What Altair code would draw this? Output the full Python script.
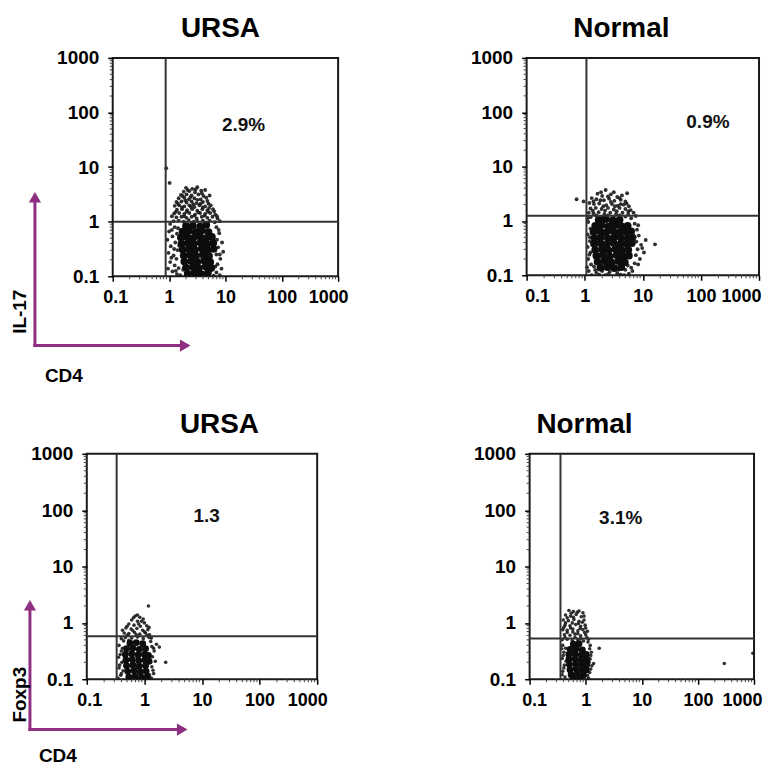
import altair as alt
import pandas as pd

FONT = "Liberation Sans"
PURPLE = "#8E2F82"
TICKS = [0.1, 1, 10, 100, 1000]
MINOR_TICKS = [0.2, 0.3, 0.4, 0.5, 0.6, 0.7, 0.8, 0.9,
               2, 3, 4, 5, 6, 7, 8, 9,
               20, 30, 40, 50, 60, 70, 80, 90,
               200, 300, 400, 500, 600, 700, 800, 900]
TITLES = ["URSA", "Normal", "URSA", "Normal"]
PCT_TEXT = ["2.9%", "0.9%", "1.3", "3.1%"]
PCT_X = [21, 132, 12, 4.2]
PCT_Y = [60, 65, 78, 72]
GATE_X = [0.87, 1.07, 0.33, 0.355]
GATE_Y = [1.0, 1.25, 0.58, 0.53]
Y_MARKERS = ["IL-17", "Foxp3"]
X_MARKER = "CD4"

# Event clouds, in log10 units: (log10 CD4, log10 marker)
P1_CORE = [
    (0.30, -0.08), (0.42, -0.07), (0.55, -0.09), (0.66, -0.06),
    (0.24, -0.18), (0.35, -0.17), (0.47, -0.19), (0.58, -0.16), (0.70, -0.19),
    (0.21, -0.29), (0.32, -0.28), (0.43, -0.30), (0.55, -0.27), (0.66, -0.30), (0.76, -0.28),
    (0.22, -0.40), (0.33, -0.39), (0.44, -0.41), (0.56, -0.38), (0.67, -0.41), (0.78, -0.39),
    (0.24, -0.51), (0.35, -0.50), (0.46, -0.52), (0.58, -0.49), (0.69, -0.52), (0.79, -0.50),
    (0.26, -0.62), (0.37, -0.61), (0.48, -0.63), (0.60, -0.60), (0.71, -0.63),
    (0.27, -0.73), (0.39, -0.72), (0.50, -0.74), (0.62, -0.71), (0.73, -0.74),
    (0.30, -0.84), (0.42, -0.83), (0.53, -0.85), (0.65, -0.82), (0.75, -0.85),
    (0.33, -0.95), (0.45, -0.94), (0.57, -0.96), (0.69, -0.93),
]
P1_DOTS = [
    (0.30, 0.62), (0.41, 0.60), (0.50, 0.63), (0.36, 0.56), (0.26, 0.55), (0.46, 0.54), (0.57, 0.57),
    (0.21, 0.49), (0.31, 0.50), (0.40, 0.48), (0.52, 0.50), (0.61, 0.47),
    (0.17, 0.43), (0.27, 0.44), (0.35, 0.41), (0.45, 0.43), (0.56, 0.41), (0.66, 0.44),
    (0.13, 0.36), (0.22, 0.37), (0.31, 0.35), (0.40, 0.37), (0.49, 0.34), (0.60, 0.36), (0.70, 0.33),
    (0.10, 0.29), (0.18, 0.30), (0.27, 0.28), (0.36, 0.30), (0.45, 0.27), (0.54, 0.30), (0.64, 0.28), (0.74, 0.30),
    (0.14, 0.22), (0.23, 0.23), (0.32, 0.21), (0.41, 0.23), (0.50, 0.20), (0.59, 0.23), (0.68, 0.21), (0.78, 0.23),
    (0.09, 0.15), (0.18, 0.16), (0.27, 0.14), (0.36, 0.16), (0.46, 0.13), (0.55, 0.16), (0.64, 0.14), (0.73, 0.16), (0.82, 0.13),
    (0.13, 0.08), (0.22, 0.09), (0.31, 0.07), (0.40, 0.09), (0.49, 0.06), (0.58, 0.09), (0.68, 0.07), (0.77, 0.09), (0.86, 0.06),
    (0.08, 0.01), (0.17, 0.02), (0.26, 0.00), (0.50, 0.01), (0.72, 0.02), (0.81, -0.01), (0.90, 0.01),
    (0.02, -0.04), (0.10, -0.10), (0.00, -0.18), (0.14, -0.22), (0.06, -0.27), (-0.03, -0.33), (0.11, -0.38),
    (0.03, -0.45), (0.15, -0.52), (-0.01, -0.57), (0.08, -0.62), (0.13, -0.68), (0.02, -0.74), (0.10, -0.80),
    (-0.02, -0.86), (0.06, -0.91), (0.14, -0.96), (0.17, -0.85), (0.18, -0.44), (0.16, -0.12),
    (0.84, -0.10), (0.89, -0.21), (0.85, -0.33), (0.94, -0.38), (0.87, -0.47), (0.96, -0.55), (0.84, -0.60),
    (0.91, -0.68), (0.86, -0.78), (0.93, -0.86), (0.84, -0.93), (0.90, -0.98), (0.79, -0.99),
    (0.01, 0.71), (-0.05, 0.98), (0.72, 0.48), (0.64, 0.58),
    (0.33, 0.58), (0.47, 0.59), (0.24, 0.47), (0.58, 0.52), (0.38, 0.45), (0.50, 0.40), (0.29, 0.39),
    (0.16, 0.33), (0.43, 0.32), (0.56, 0.33), (0.68, 0.38), (0.23, 0.26), (0.39, 0.27), (0.60, 0.26),
    (0.71, 0.25), (0.12, 0.18), (0.31, 0.18), (0.52, 0.17), (0.69, 0.18), (0.80, 0.19), (0.05, 0.10),
    (0.27, 0.10), (0.45, 0.11), (0.63, 0.11), (0.85, 0.10), (0.35, 0.03), (0.44, 0.00), (0.60, 0.02),
    (0.05, -0.15), (0.09, -0.50), (0.04, -0.66), (0.12, -0.90), (0.88, -0.15), (0.82, -0.40),
    (0.90, -0.60), (0.82, -0.82), (0.20, -0.98), (0.25, -0.88),
]
P2_CORE = [
    (0.24, 0.02), (0.36, 0.03), (0.48, 0.01), (0.60, 0.02),
    (0.18, -0.09), (0.29, -0.08), (0.41, -0.10), (0.53, -0.08), (0.64, -0.10), (0.74, -0.09),
    (0.15, -0.20), (0.26, -0.19), (0.37, -0.21), (0.49, -0.19), (0.60, -0.21), (0.71, -0.20), (0.80, -0.19),
    (0.17, -0.31), (0.28, -0.30), (0.40, -0.32), (0.51, -0.30), (0.63, -0.32), (0.74, -0.31), (0.82, -0.30),
    (0.16, -0.42), (0.27, -0.41), (0.38, -0.43), (0.50, -0.41), (0.61, -0.43), (0.72, -0.42), (0.81, -0.41),
    (0.18, -0.53), (0.30, -0.52), (0.41, -0.54), (0.53, -0.52), (0.64, -0.54), (0.75, -0.53),
    (0.20, -0.64), (0.31, -0.63), (0.43, -0.65), (0.55, -0.63), (0.66, -0.65), (0.76, -0.64),
    (0.22, -0.75), (0.34, -0.74), (0.46, -0.76), (0.58, -0.74), (0.69, -0.76),
    (0.27, -0.86), (0.39, -0.85), (0.51, -0.87), (0.63, -0.85),
]
P2_DOTS = [
    (0.36, 0.57), (0.73, 0.51), (0.22, 0.50), (0.30, 0.46), (0.45, 0.49), (0.56, 0.44), (0.64, 0.47),
    (0.12, 0.42), (0.20, 0.40), (0.33, 0.38), (0.42, 0.41), (0.51, 0.37), (0.62, 0.39), (0.70, 0.36),
    (0.08, 0.33), (0.16, 0.31), (0.25, 0.32), (0.37, 0.29), (0.47, 0.31), (0.57, 0.28), (0.67, 0.30), (0.76, 0.27),
    (0.10, 0.23), (0.19, 0.24), (0.29, 0.22), (0.40, 0.24), (0.50, 0.21), (0.60, 0.24), (0.70, 0.22), (0.79, 0.20),
    (0.07, 0.15), (0.15, 0.14), (0.24, 0.16), (0.34, 0.13), (0.44, 0.15), (0.54, 0.13), (0.65, 0.15), (0.75, 0.13), (0.84, 0.15),
    (0.10, 0.07), (0.70, 0.08), (0.80, 0.05), (0.88, 0.09),
    (0.06, -0.02), (0.10, -0.14), (0.05, -0.25), (0.09, -0.37), (0.05, -0.48), (0.10, -0.58),
    (0.06, -0.70), (0.11, -0.80), (0.07, -0.92), (0.12, -1.00),
    (0.86, -0.05), (0.90, -0.16), (0.93, -0.27), (0.89, -0.38), (0.97, -0.44), (0.91, -0.52),
    (1.02, -0.58), (0.88, -0.63), (0.95, -0.70), (0.86, -0.78), (1.05, -0.35),
    (0.16, -0.84), (0.20, -0.95), (0.30, -0.92), (0.35, -1.00), (0.43, -0.94), (0.48, -1.02), (0.56, -0.96),
    (0.62, -0.99), (0.70, -0.90), (0.76, -0.97), (0.80, -0.86), (0.25, -0.99), (0.66, -0.84), (0.74, -0.82),
    (-0.14, 0.40), (-0.02, 0.36), (1.21, -0.43),
    (0.28, 0.53), (0.50, 0.53), (0.40, 0.45), (0.60, 0.42), (0.27, 0.38), (0.15, 0.36), (0.45, 0.35),
    (0.72, 0.32), (0.32, 0.27), (0.52, 0.27), (0.62, 0.31), (0.14, 0.19), (0.35, 0.19), (0.55, 0.18),
    (0.75, 0.18), (0.20, 0.10), (0.30, 0.08), (0.40, 0.10), (0.50, 0.08), (0.60, 0.10), (0.05, 0.05),
    (0.09, -0.30), (0.08, -0.62), (0.04, -0.85), (0.92, -0.08), (0.86, -0.30), (0.99, -0.50),
    (0.92, -0.80), (0.82, -0.92), (0.18, -0.90), (0.40, -0.98), (0.58, -0.90), (0.68, -1.00),
]
P3_CORE = [
    (-0.25, -0.36), (-0.14, -0.35), (-0.03, -0.37),
    (-0.31, -0.46), (-0.20, -0.45), (-0.09, -0.47), (0.02, -0.46),
    (-0.33, -0.56), (-0.22, -0.55), (-0.11, -0.57), (0.00, -0.56), (0.07, -0.58),
    (-0.32, -0.66), (-0.21, -0.65), (-0.10, -0.67), (0.01, -0.66), (0.08, -0.68),
    (-0.31, -0.76), (-0.20, -0.75), (-0.09, -0.77), (0.02, -0.76),
    (-0.29, -0.86), (-0.18, -0.85), (-0.07, -0.87), (0.03, -0.86),
    (-0.27, -0.96), (-0.16, -0.95), (-0.05, -0.97), (0.05, -0.96),
]
P3_DOTS = [
    (-0.16, 0.12), (-0.08, 0.10), (-0.02, 0.07), (-0.22, 0.05), (-0.12, 0.03), (0.00, 0.00),
    (-0.27, -0.02), (-0.18, -0.04), (-0.07, -0.06), (0.04, -0.05),
    (-0.32, -0.09), (-0.23, -0.11), (-0.13, -0.10), (-0.03, -0.13), (0.06, -0.12),
    (-0.35, -0.18), (-0.27, -0.19), (-0.17, -0.17), (-0.08, -0.20), (0.02, -0.18), (0.09, -0.21),
    (-0.33, -0.26), (-0.22, -0.27), (-0.12, -0.25), (-0.02, -0.28), (0.08, -0.26), (-0.36, -0.32), (0.11, -0.33),
    (-0.44, -0.40), (-0.40, -0.50), (-0.45, -0.61), (-0.39, -0.70), (-0.44, -0.80), (-0.40, -0.90),
    (-0.46, -0.98), (-0.38, -0.45), (-0.37, -0.85),
    (0.13, -0.42), (0.17, -0.50), (0.14, -0.60), (0.19, -0.68), (0.13, -0.78), (0.16, -0.90),
    (0.12, -0.98), (0.21, -0.38),
    (0.07, 0.30), (0.26, -0.43), (0.37, -0.70),
    (-0.12, 0.14), (-0.19, 0.09), (-0.05, 0.03), (-0.30, -0.06), (-0.10, -0.02), (0.08, -0.08),
    (-0.38, -0.13), (-0.20, -0.14), (0.00, -0.16), (-0.30, -0.22), (-0.14, -0.21), (0.05, -0.22),
    (-0.40, -0.28), (-0.27, -0.31), (0.12, -0.27), (-0.42, -0.56), (-0.43, -0.75), (-0.41, -0.93),
    (0.16, -0.45), (0.11, -0.70), (0.15, -0.84), (0.09, -0.92),
]
P4_CORE = [
    (-0.22, -0.38), (-0.12, -0.37),
    (-0.28, -0.47), (-0.17, -0.46), (-0.06, -0.48),
    (-0.30, -0.56), (-0.19, -0.55), (-0.08, -0.57), (0.01, -0.56),
    (-0.30, -0.65), (-0.19, -0.64), (-0.08, -0.66), (0.02, -0.65),
    (-0.29, -0.74), (-0.18, -0.73), (-0.07, -0.75), (0.02, -0.74),
    (-0.28, -0.83), (-0.17, -0.82), (-0.06, -0.84), (0.01, -0.83),
    (-0.26, -0.92), (-0.15, -0.91), (-0.04, -0.93),
    (-0.22, -1.00), (-0.11, -0.99),
]
P4_DOTS = [
    (-0.30, 0.22), (-0.22, 0.20), (-0.12, 0.21), (-0.05, 0.18), (-0.36, 0.14), (-0.27, 0.12), (-0.17, 0.15),
    (-0.08, 0.11), (-0.40, 0.05), (-0.31, 0.04), (-0.21, 0.06), (-0.12, 0.03), (-0.03, 0.05),
    (-0.37, -0.04), (-0.28, -0.05), (-0.18, -0.03), (-0.09, -0.06), (-0.01, -0.04),
    (-0.41, -0.12), (-0.33, -0.13), (-0.23, -0.11), (-0.14, -0.14), (-0.05, -0.12), (0.03, -0.15),
    (-0.38, -0.21), (-0.28, -0.22), (-0.19, -0.20), (-0.09, -0.23), (0.00, -0.21),
    (-0.42, -0.30), (-0.33, -0.29), (-0.24, -0.31), (-0.14, -0.30), (-0.04, -0.32), (0.05, -0.29),
    (-0.41, -0.40), (-0.39, -0.52), (-0.42, -0.63), (-0.38, -0.75), (-0.41, -0.86), (-0.37, -0.96),
    (-0.36, -0.45), (-0.35, -0.68),
    (0.08, -0.40), (0.10, -0.52), (0.08, -0.64), (0.11, -0.76), (0.07, -0.88), (0.05, -0.98), (0.04, -0.34),
    (0.24, -0.45), (0.14, -0.72), (2.47, -0.72), (2.98, -0.54),
    (-0.26, 0.17), (-0.15, 0.19), (-0.33, 0.09), (-0.22, 0.10), (-0.03, 0.12), (-0.36, 0.00),
    (-0.24, 0.00), (-0.13, -0.01), (-0.06, 0.01), (-0.39, -0.08), (-0.27, -0.09), (-0.10, -0.10),
    (0.00, -0.09), (-0.33, -0.17), (-0.23, -0.16), (-0.14, -0.19), (-0.02, -0.17), (-0.37, -0.26),
    (-0.19, -0.26), (-0.09, -0.28), (0.02, -0.26), (-0.43, -0.46), (-0.40, -0.58), (-0.39, -0.80),
    (-0.42, -0.92), (0.07, -0.46), (0.09, -0.58), (0.06, -0.70), (0.09, -0.82), (0.03, -0.93),
]

CORES = [P1_CORE, P2_CORE, P3_CORE, P4_CORE]
DOTS = [P1_DOTS, P2_DOTS, P3_DOTS, P4_DOTS]

# layout (pixels)
SIZES = [(226, 219), (233, 218), (231, 226), (225, 226)]
TITLE_CX = [108, 95, 133, 55]
FLUSH = [10, 2, 10, 8]
CORE_SIZE = [60, 60, 48, 48]
DOT_SIZE = [15, 15, 13, 13]

SCALE = alt.Scale(type="log", domain=[0.1, 1000], nice=False)


def X(field, i):
    return alt.X(f"{field}:Q", scale=SCALE, title=None,
                 axis=alt.Axis(values=TICKS, format="~g", labelFlush=True, labelFlushOffset=FLUSH[i]))


def Y(field):
    return alt.Y(f"{field}:Q", scale=SCALE, title=None, axis=alt.Axis(values=TICKS, format="~g"))


def cloud(pairs):
    return pd.DataFrame({"x": [10 ** a for a, _ in pairs], "y": [10 ** b for _, b in pairs]})


def marker_layers(ylabel, ax, ay0, ay1, ax1, ylx, yly, xlx, xly):
    one = pd.DataFrame({"t": [ylabel], "c": [X_MARKER]})
    base = alt.Chart(one)
    return [
        base.mark_rule(color=PURPLE, strokeWidth=3).encode(
            x=alt.value(ax), y=alt.value(ay0 + 1.5), y2=alt.value(ay1 + 8)),
        base.mark_rule(color=PURPLE, strokeWidth=3).encode(
            x=alt.value(ax - 1.5), x2=alt.value(ax1 - 8), y=alt.value(ay0)),
        base.mark_point(shape="triangle-up", filled=True, size=150, color=PURPLE, opacity=1).encode(
            x=alt.value(ax), y=alt.value(ay1 + 5.3)),
        base.mark_point(shape="triangle-right", filled=True, size=150, color=PURPLE, opacity=1).encode(
            x=alt.value(ax1 - 5.3), y=alt.value(ay0)),
        base.mark_text(angle=270, fontSize=19, font=FONT, fontWeight="bold", color="black").encode(
            x=alt.value(ylx), y=alt.value(yly), text="t:N"),
        base.mark_text(fontSize=19, font=FONT, fontWeight="bold", color="black").encode(
            x=alt.value(xlx), y=alt.value(xly), text="c:N"),
    ]


def panel(i, extra=None):
    w, h = SIZES[i]
    minor = pd.DataFrame({"m": MINOR_TICKS})
    minor_x = alt.Chart(minor).mark_rule(color="#444444", strokeWidth=1).encode(
        x=X("m", i), y=alt.value(h), y2=alt.value(h + 3))
    minor_y = alt.Chart(minor).mark_rule(color="#444444", strokeWidth=1).encode(
        y=Y("m"), x=alt.value(-3), x2=alt.value(0))
    dots = alt.Chart(cloud(DOTS[i])).mark_circle(size=DOT_SIZE[i], color="#1a1a1a", opacity=0.9, clip=True).encode(
        x=X("x", i), y=Y("y"))
    core = alt.Chart(cloud(CORES[i])).mark_circle(size=CORE_SIZE[i], color="#0d0d0d", opacity=1, clip=True).encode(
        x=X("x", i), y=Y("y"))
    gx = alt.Chart(pd.DataFrame({"gx": [GATE_X[i]]})).mark_rule(color="#333333", strokeWidth=2).encode(x=X("gx", i))
    gy = alt.Chart(pd.DataFrame({"gy": [GATE_Y[i]]})).mark_rule(color="#333333", strokeWidth=2).encode(y=Y("gy"))
    pct = alt.Chart(pd.DataFrame({"px": [PCT_X[i]], "py": [PCT_Y[i]], "t": [PCT_TEXT[i]]})).mark_text(
        fontSize=19, font=FONT, fontWeight="bold", color="#111111").encode(x=X("px", i), y=Y("py"), text="t:N")
    title = alt.Chart(pd.DataFrame({"t": [TITLES[i]]})).mark_text(
        fontSize=28, font=FONT, fontWeight="bold", color="black", baseline="alphabetic").encode(
        x=alt.value(TITLE_CX[i]), y=alt.value(-20.5), text="t:N")
    layers = [minor_x, minor_y, dots, core, gx, gy, pct, title] + (extra or [])
    return alt.layer(*layers).properties(width=w, height=h)


def spacer():
    return alt.Chart(pd.DataFrame({"s": [0]})).mark_point(size=1, opacity=0).encode(
        x=alt.value(0), y=alt.value(0)
    ).properties(width=1, height=1, view=alt.ViewBackground(stroke="transparent", strokeWidth=0))


p1 = panel(0, marker_layers(Y_MARKERS[0], -78, 288.5, 134.5, 78, -92.5, 254.5, -49, 318.5))
p2 = panel(1)
p3 = panel(2, marker_layers(Y_MARKERS[1], -57, 276.5, 146.5, 101, -66.5, 241.5, -29, 302.5))
p4 = panel(3)

row1 = alt.hconcat(alt.hconcat(spacer(), p1, spacing=0), p2, spacing=120)
row2 = alt.hconcat(alt.hconcat(spacer(), p3, spacing=0), p4, spacing=144)

chart = alt.vconcat(row1, row2, spacing=23).properties(
    padding={"left": 0, "top": 5, "right": 0, "bottom": 3}
).configure_view(
    stroke="#1a1a1a", strokeWidth=2
).configure_axis(
    labelFont=FONT, labelFontWeight="bold", labelColor="black",
    tickColor="black", tickSize=5, tickWidth=1.5, domain=False, grid=False,
).configure_axisX(
    labelPadding=7, labelFontSize=18,
).configure_axisY(
    labelPadding=9, labelFlush=False, labelFontSize=19,
)

chart.save("out.html", embed_options={"renderer": "svg", "actions": False})
